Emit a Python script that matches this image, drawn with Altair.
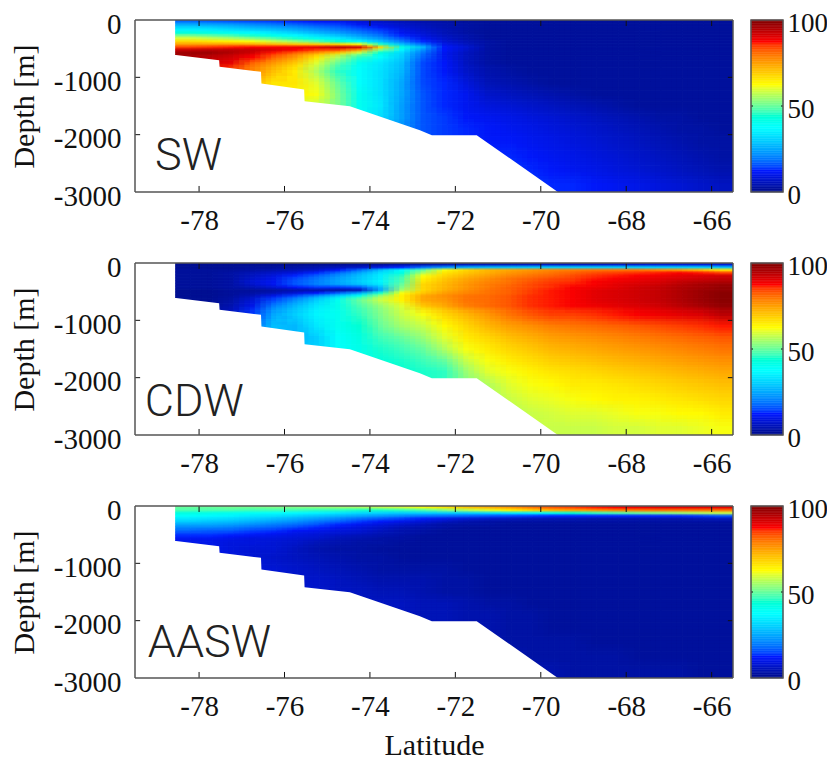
import altair as alt
import pandas as pd

lat_edges = [-78.55, -78.0, -77.5, -77.0, -76.5, -76.0, -75.5, -75.0, -74.5, -74.0, -73.5, -73.0, -72.5,
             -72.0, -71.5, -71.0, -70.5, -70.0, -69.5, -69.0, -68.5, -68.0, -67.5, -67.0, -66.5, -66.0, -65.5]
depth_edges = [0, -50, -100, -150, -200, -250, -300, -350, -400, -450, -500, -550, -600, -700, -800,
               -1000, -1200, -1400, -1600, -1800, -2000, -2250, -2500, -2750, -3000]

SW = [
[18,17,16,15,14,13,12,11,9,7,5,4,3,2,2,2,2,2,2,2,2,2,2,2,2,2],
[25,24,23,21,19,17,15,14,11,9,7,5,4,3,2,2,2,2,2,2,2,2,2,2,2,2],
[31,30,28,26,24,22,19,17,14,11,8,6,4,3,2,2,2,2,2,2,2,2,2,2,2,2],
[36,35,33,31,29,26,23,20,17,14,10,7,5,3,2,2,2,2,2,2,2,2,2,2,2,2],
[43,42,40,37,34,31,27,24,20,16,11,8,5,3,2,2,2,2,2,2,2,2,2,2,2,2],
[52,50,48,45,41,37,33,29,24,19,13,9,6,4,2,2,2,2,2,2,2,2,2,2,2,2],
[60,58,56,53,49,45,40,35,29,23,16,11,7,4,2,2,2,2,2,2,2,2,2,2,2,2],
[68,66,64,62,58,54,49,44,37,29,20,13,8,5,3,2,2,2,2,2,2,2,2,2,2,2],
[75,75,75,74,72,70,69,68,62,45,28,18,10,6,3,2,2,2,2,2,2,2,2,2,2,2],
[85,86,87,88,88,89,90,94,92,68,42,27,12,8,3,2,2,2,2,2,2,2,2,2,2,2],
[93,94,94,93,91,88,85,84,75,52,36,22,12,7,3,2,2,2,2,2,2,2,2,2,2,2],
[97,97,95,92,87,82,76,70,58,43,32,19,11,6,3,2,2,2,2,2,2,2,2,2,2,2],
[96,94,92,88,82,76,66,56,46,38,30,17,11,6,3,2,2,2,2,2,2,2,2,2,2,2],
[94,92,90,82,76,70,60,50,40,34,28,15,12,6,3,2,2,2,2,2,2,2,2,2,2,2],
[90,88,84,78,71,65,56,46,38,33,27,15,12,7,4,3,2,2,2,2,2,2,2,2,2,2],
[84,82,78,72,66,66,60,50,38,33,25,15,13,9,5,4,3,2,2,2,2,2,2,2,2,2],
[80,78,74,70,66,64,62,52,40,33,25,16,13,11,7,6,5,4,3,2,2,2,2,2,2,2],
[76,74,70,66,62,60,58,52,40,34,24,16,13,11,9,8,7,6,5,4,3,2,2,2,2,2],
[70,68,64,60,56,54,52,48,38,32,24,16,14,12,11,10,9,8,7,6,5,4,3,3,2,2],
[64,62,58,54,50,48,46,42,36,30,22,16,14,13,12,11,10,9,8,7,6,5,4,3,3,2],
[58,56,52,48,44,42,40,36,32,28,22,16,14,13,12,12,11,10,9,8,7,6,5,4,3,3],
[50,48,44,40,38,36,34,30,28,24,20,16,14,13,13,13,12,11,10,9,8,7,6,5,4,3],
[44,42,38,36,34,32,30,28,26,22,18,16,14,14,14,14,13,12,11,10,9,8,7,6,5,4],
[38,36,34,32,30,28,26,24,22,20,18,16,15,14,14,14,14,13,13,12,11,10,9,8,7,6],
]

CDW = [
[1,1,1,1,1,1,1,1,2,2,3,3,4,5,5,5,6,6,6,6,7,7,8,8,8,8],
[1,1,1,2,2,3,4,5,6,9,13,18,22,25,27,28,29,30,30,30,30,30,30,30,30,28],
[2,2,2,3,4,5,7,12,18,28,38,50,62,68,72,74,76,78,79,80,80,80,78,76,72,66],
[2,2,3,5,7,9,13,18,25,33,42,56,66,70,73,76,78,80,82,84,85,86,87,88,87,85],
[2,2,3,6,9,13,17,22,28,35,46,62,68,72,75,78,80,82,84,86,87,88,89,90,91,92],
[2,2,3,7,10,15,19,24,29,35,48,64,70,74,77,80,82,84,85,87,88,89,90,91,92,93],
[2,2,3,8,11,16,20,25,30,36,48,66,71,75,78,80,83,85,86,88,89,90,91,93,94,95],
[2,2,3,7,11,16,20,24,28,34,50,68,72,76,79,81,84,86,87,88,90,91,92,94,96,97],
[2,2,3,5,8,12,14,14,16,28,52,68,72,76,79,82,84,86,88,89,90,92,93,95,96,98],
[1,1,2,2,3,4,4,3,5,25,55,68,73,77,80,82,85,87,88,90,91,92,93,95,97,98],
[1,1,2,3,5,8,12,17,25,45,62,70,75,78,80,82,85,87,88,90,91,92,93,95,97,99],
[1,1,2,5,10,15,22,30,40,54,64,74,77,80,81,83,86,87,88,90,91,92,93,95,97,99],
[1,1,3,8,15,22,30,40,50,58,64,74,76,80,81,83,86,87,88,90,91,92,93,95,97,99],
[1,2,4,10,20,27,34,41,48,54,60,70,74,79,81,83,86,87,88,89,90,91,92,94,96,98],
[2,3,6,14,25,30,36,40,46,52,58,62,68,72,76,80,83,85,85,86,87,88,89,90,91,94],
[2,4,8,18,28,27,34,40,44,50,55,58,63,68,72,75,77,79,80,81,82,83,84,85,86,87],
[2,4,8,18,28,27,30,38,42,47,50,54,60,65,68,71,73,75,76,77,78,79,80,81,82,83],
[2,4,8,18,28,28,30,38,41,45,47,50,56,62,65,68,70,72,73,74,75,76,77,78,79,80],
[2,4,8,18,28,28,30,36,40,43,45,47,50,58,62,65,67,69,70,71,72,73,74,75,76,77],
[2,4,8,18,28,28,30,36,40,42,44,45,46,54,60,62,64,66,67,68,69,70,71,72,73,74],
[2,4,8,18,28,28,30,36,40,42,44,45,46,52,56,60,62,63,65,65,66,67,68,69,70,71],
[2,4,8,18,28,28,30,36,40,42,44,45,46,52,55,58,60,61,62,63,64,64,65,66,67,68],
[2,4,8,18,28,28,30,36,40,42,44,45,46,52,55,56,58,59,60,60,61,62,62,63,63,65],
[2,4,8,18,28,28,30,36,40,42,44,45,46,52,55,56,58,58,58,58,59,59,60,60,61,62],
]

AASW = [
[50,50,51,51,52,52,53,54,55,57,59,62,66,70,73,76,80,83,85,87,88,89,90,90,90,90],
[48,48,48,47,47,47,46,46,45,45,46,48,52,56,60,64,68,72,74,76,78,79,80,80,80,80],
[42,41,40,39,38,37,36,34,32,31,30,30,30,30,32,34,36,40,44,46,48,50,52,54,56,58],
[38,37,36,34,33,31,29,27,25,23,21,19,18,17,16,15,14,13,13,13,13,13,13,13,14,16],
[34,33,32,30,28,26,24,21,18,16,14,12,10,8,7,6,5,5,5,4,4,4,4,4,5,6],
[30,29,28,26,24,22,19,17,14,12,10,8,6,4,3,3,3,3,3,3,3,3,3,3,3,3],
[25,25,24,22,20,18,16,13,11,9,7,5,3,3,3,2,2,2,2,2,2,2,2,2,2,2],
[21,21,20,18,17,15,13,11,9,7,5,4,3,2,2,2,2,2,2,2,2,2,2,2,2,2],
[18,17,17,15,14,12,11,9,8,6,4,3,2,2,2,2,2,2,2,2,2,2,2,2,2,2],
[15,15,14,13,12,10,9,8,7,5,4,3,2,2,2,2,2,2,2,2,2,2,2,2,2,2],
[13,13,12,11,10,9,8,6,5,4,3,2,2,2,2,2,2,2,2,2,2,2,2,2,2,2],
[11,11,10,9,9,8,7,5,4,3,3,2,2,2,2,2,2,2,2,2,2,2,2,2,2,2],
[10,10,9,9,8,7,5,4,3,3,2,2,2,2,2,2,2,2,2,2,2,2,2,2,2,2],
[10,10,9,8,8,6,4,3,3,2,2,2,2,2,2,2,2,2,2,2,2,2,2,2,2,2],
[10,10,9,8,7,6,5,4,3,3,2,2,2,2,2,2,2,2,2,2,2,2,2,2,2,2],
[10,10,9,8,8,7,6,5,4,3,3,3,3,2,2,2,2,2,2,2,2,2,2,2,2,2],
[10,10,9,8,8,7,7,6,5,4,4,4,3,3,2,2,2,2,2,2,2,2,2,2,2,2],
[10,10,9,8,8,8,7,6,6,5,5,4,3,3,2,2,2,2,2,2,2,2,2,2,2,2],
[10,10,9,8,8,7,7,7,6,6,6,5,5,4,3,3,2,2,2,2,2,2,2,2,2,2],
[10,10,9,8,8,8,8,7,7,6,6,5,5,4,4,3,3,2,2,2,2,2,2,2,2,2],
[8,8,8,7,7,6,6,5,5,5,5,5,5,4,4,3,3,2,2,2,2,2,2,2,2,2],
[8,8,8,7,7,6,6,5,5,5,5,5,5,4,4,3,3,3,3,2,2,2,2,2,2,2],
[8,8,8,7,7,6,6,5,5,5,5,5,5,4,4,4,3,3,3,3,3,2,2,2,2,2],
[8,8,8,7,7,6,6,5,5,5,5,5,5,4,4,4,4,4,3,3,3,3,3,3,2,2],
]

shelf_lat = [-78.62, -78.54, -77.53, -77.52, -76.55, -76.54, -75.54, -75.53, -74.47, -72.83, -72.55, -71.5, -69.6, -65.5]
shelf_depth = [-610, -610, -700, -815, -903, -1107, -1211, -1415, -1503, -1922, -2010, -2010, -3000, -3000]

lat_ticks = [-78, -76, -74, -72, -70, -68, -66]
depth_ticks = [-3000, -2000, -1000, 0]
bar_ticks = [0, 50, 100]
bar_levels = list(range(0, 100))

panel_names = ["SW", "CDW", "AASW"]
label_lat = [-79.03, -79.27, -79.2]
label_depth = [-2620, -2673, -2640]

JET = ["#000f8a", "#0018ff", "#00ffff", "#ffff00", "#ff0000", "#800000"]
JET_STOPS = [0, 12.5, 37.5, 62.5, 87.5, 100]
color_scale = alt.Scale(domain=JET_STOPS, range=JET, clamp=True)

XDOM = [-79.5, -65.5]
YDOM = [-3000, 0]
W, H = 598, 172
SERIF = "Liberation Serif"
xs = alt.Scale(domain=XDOM, nice=False, zero=False)
ys = alt.Scale(domain=YDOM, nice=False, zero=False)

neg_expr = "datum.value == 0 ? '0' : '-' + abs(datum.value)"

# the same grid is drawn four times, each with its cell edges moved by part of a cell, and blended
blend_layers = [(-0.375, 0.125, 1.0), (-0.125, -0.375, 0.5), (0.125, 0.375, 0.3333), (0.375, -0.125, 0.25)]


def moved(edges, s):
    out = []
    for i, e in enumerate(edges):
        if i == 0 or i == len(edges) - 1:
            out.append(e)
        elif s >= 0:
            out.append(e + s * (edges[i + 1] - e))
        else:
            out.append(e - s * (edges[i - 1] - e))
    return out


def panel(values, idx, xtitle):
    xaxis = alt.Axis(values=lat_ticks, labelExpr=neg_expr, tickSize=0, domain=False, grid=False,
                     labelFont=SERIF, labelFontSize=29, labelColor="#111", labelPadding=14,
                     title=xtitle, titleFont=SERIF, titleFontSize=30, titleFontWeight="normal",
                     titleColor="#111", titlePadding=9)
    yaxis = alt.Axis(values=depth_ticks, labelExpr=neg_expr, tickSize=0, domain=False, grid=False,
                     labelFont=SERIF, labelFontSize=29, labelColor="#111", labelPadding=14, labelOffset=4,
                     title="Depth [m]", titleFont=SERIF, titleFontSize=30, titleFontWeight="normal",
                     titleColor="#111", titlePadding=14)
    X = lambda f: alt.X(f, scale=xs, axis=xaxis)
    Y = lambda f: alt.Y(f, scale=ys, axis=yaxis)
    layers = []
    for k, (sx, sy, op) in enumerate(blend_layers):
        ex = moved(lat_edges, sx)
        ey = moved(depth_edges, sy)
        rows = []
        for r, row in enumerate(values):
            for c, v in enumerate(row):
                rows.append(dict(x=ex[c], x2=ex[c + 1], y=ey[r], y2=ey[r + 1], v=v))
        mark = alt.Chart(pd.DataFrame(rows)).mark_rect(
            strokeWidth=0.6 if k == 0 else 0, opacity=op, clip=True)
        enc = dict(x=X("x:Q"), x2="x2:Q", y=Y("y:Q"), y2="y2:Q",
                   color=alt.Color("v:Q", scale=color_scale, legend=None))
        if k == 0:
            enc["stroke"] = alt.Color("v:Q", scale=color_scale, legend=None)
        layers.append(mark.encode(**enc))
    mask_df = pd.DataFrame(dict(lat=shelf_lat, depth=shelf_depth, base=[YDOM[0]] * len(shelf_lat)))
    mask = alt.Chart(mask_df).mark_area(fill="white", orient="vertical", clip=True).encode(
        x=X("lat:Q"),
        y=Y("depth:Q"),
        y2="base:Q",
    )
    tick_rows = []
    for t in lat_ticks:
        tick_rows.append(dict(x=t, x2=t, y=YDOM[0], y2=YDOM[0] + 105))
        tick_rows.append(dict(x=t, x2=t, y=YDOM[1], y2=YDOM[1] - 105))
    for t in depth_ticks[1:-1]:
        tick_rows.append(dict(x=XDOM[0], x2=XDOM[0] + 0.12, y=t, y2=t))
        tick_rows.append(dict(x=XDOM[1], x2=XDOM[1] - 0.12, y=t, y2=t))
    ticks = alt.Chart(pd.DataFrame(tick_rows)).mark_rule(color="#111", strokeWidth=1).encode(
        x=X("x:Q"), x2="x2:Q", y=Y("y:Q"), y2="y2:Q",
    )
    frame_rows = [
        dict(x=XDOM[0], x2=XDOM[1], y=YDOM[0], y2=YDOM[0]),
        dict(x=XDOM[0], x2=XDOM[1], y=YDOM[1], y2=YDOM[1]),
        dict(x=XDOM[0], x2=XDOM[0], y=YDOM[0], y2=YDOM[1]),
        dict(x=XDOM[1], x2=XDOM[1], y=YDOM[0], y2=YDOM[1]),
    ]
    frame = alt.Chart(pd.DataFrame(frame_rows)).mark_rule(color="#555", strokeWidth=1.5).encode(
        x=X("x:Q"), x2="x2:Q", y=Y("y:Q"), y2="y2:Q",
    )
    label = alt.Chart(pd.DataFrame(dict(x=[label_lat[idx]], y=[label_depth[idx]], t=[panel_names[idx]]))).mark_text(
        font="Roboto", fontWeight=300, fontSize=45, align="left", baseline="alphabetic", color="#222").encode(
        x=X("x:Q"), y=Y("y:Q"), text="t:N")
    return alt.layer(*layers, mask, ticks, frame, label).properties(width=W, height=H)


def colorbar():
    df = pd.DataFrame(dict(a=bar_levels, b=[v + 1 for v in bar_levels], v=[v + 0.5 for v in bar_levels]))
    bs = alt.Scale(domain=[0, 100], nice=False, zero=False)
    yaxis = alt.Axis(values=bar_ticks, orient="right", tickSize=0, domain=False, grid=False, title=None,
                     labelFont=SERIF, labelFontSize=27, labelColor="#111", labelPadding=4, labelOffset=3,
                     labelFlush=False)
    bar = alt.Chart(df).mark_rect(strokeWidth=0.5).encode(
        x=alt.value(0), x2=alt.value(32),
        y=alt.Y("a:Q", scale=bs, axis=yaxis), y2="b:Q",
        color=alt.Color("v:Q", scale=color_scale, legend=None),
        stroke=alt.Color("v:Q", scale=color_scale, legend=None),
    )
    tick_df = pd.DataFrame(dict(v=[50]))
    left = alt.Chart(tick_df).mark_rule(color="#111").encode(
        x=alt.value(0), x2=alt.value(2), y=alt.Y("v:Q", scale=bs, axis=yaxis))
    right = alt.Chart(tick_df).mark_rule(color="#111").encode(
        x=alt.value(30), x2=alt.value(32), y=alt.Y("v:Q", scale=bs, axis=yaxis))
    fr = alt.Chart(pd.DataFrame(dict(a=[0], b=[100]))).mark_rect(fill=None, stroke="#555", strokeWidth=1.5).encode(
        x=alt.value(0), x2=alt.value(32), y=alt.Y("a:Q", scale=bs, axis=yaxis), y2="b:Q")
    return alt.layer(bar, left, right, fr).properties(width=32, height=H)


chart = alt.concat(
    panel(SW, 0, None), colorbar(),
    panel(CDW, 1, None), colorbar(),
    panel(AASW, 2, "Latitude"), colorbar(),
    columns=2,
    spacing=alt.RowColnumber(row=71, column=18),
    bounds="flush",
    align="each",
    padding={"left": 1, "top": 1, "right": -1, "bottom": -1},
).configure_view(stroke=None).configure_axis(labelOverlap=False)

chart.save("out.html", embed_options={"renderer": "svg", "actions": False})
